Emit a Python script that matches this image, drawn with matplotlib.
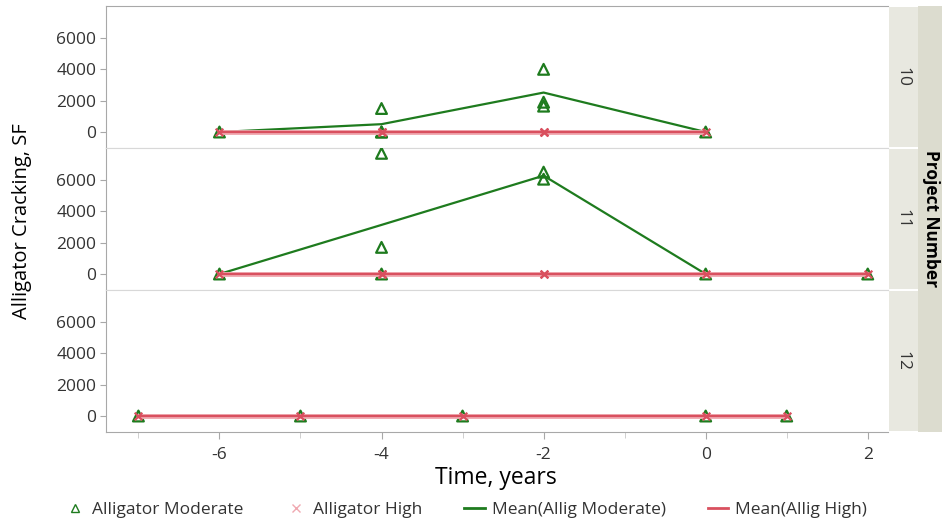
import matplotlib
matplotlib.use("Agg")
import matplotlib.pyplot as plt
from matplotlib.lines import Line2D
import pandas as pd

plt.rcParams['font.family'] = ['Open Sans', 'DejaVu Sans']

# Alligator cracking observations per project (square feet)
projects = [10, 11, 12]
time_p10 = [-6, -4, -4, -4, -2, -2, -2, 0]
moderate_p10 = [0, 1500, 0, 0, 4000, 1900, 1650, 0]
high_p10 = [0, 0, 0, 0, 0, 0, 0, 0]

time_p11 = [-6, -4, -4, -4, -2, -2, 0, 2]
moderate_p11 = [0, 7700, 1700, 0, 6500, 6050, 0, 0]
high_p11 = [0, 0, 0, 0, 0, 0, 0, 0]

time_p12 = [-7, -5, -3, 0, 1]
moderate_p12 = [0, 0, 0, 0, 0]
high_p12 = [0, 0, 0, 0, 0]

y_ticks = [0, 2000, 4000, 6000]
x_ticks = [-6, -4, -2, 0, 2]

data = {
    10: (time_p10, moderate_p10, high_p10),
    11: (time_p11, moderate_p11, high_p11),
    12: (time_p12, moderate_p12, high_p12),
}

GREEN = '#1e7b1e'
RED = '#d9505f'
PINK = '#f0a8b0'
GRAY = '#a8a8a8'
TEXT = '#333333'

W, H = 942, 526
fig = plt.figure(figsize=(W / 100, H / 100), dpi=100)

def fx(px):
    return px / W

def fy(px):
    return 1 - px / H

left, right = 106, 888
top, ph = 6, 142

axes = []
for i, proj in enumerate(projects):
    y0 = top + i * ph
    ax = fig.add_axes([fx(left), fy(y0 + ph), fx(right - left), ph / H])
    t, mod, high = data[proj]
    df = pd.DataFrame({'t': t, 'mod': mod, 'high': high})
    means = df.groupby('t').mean().reset_index()

    ax.plot(means['t'], means['mod'], color=GREEN, lw=1.6, zorder=2)
    ax.scatter(df['t'], df['mod'], marker='^', s=60, facecolors='none',
               edgecolors=GREEN, linewidths=1.6, zorder=3)
    ax.plot(means['t'], means['high'], color=PINK, lw=3.5, zorder=4, solid_capstyle='butt')
    ax.plot(means['t'], means['high'], color=RED, lw=1.6, zorder=5)
    ax.scatter(df['t'], df['high'], marker='x', s=30, color=RED,
               linewidths=1.6, zorder=6)

    ax.set_xlim(-7.4, 2.25)
    ax.set_ylim(-1020, 8040)
    ax.set_yticks(y_ticks)
    ax.set_yticklabels([str(v) for v in y_ticks], fontsize=12.5, color=TEXT)
    ax.tick_params(axis='y', length=4, color=GRAY, pad=3)
    ax.set_xticks(x_ticks)
    ax.set_xticks([-7, -5, -3, -1, 1], minor=True)
    ax.spines['right'].set_visible(False)
    ax.spines['left'].set_color(GRAY)
    ax.spines['top'].set_color('#d8d8d8' if i > 0 else GRAY)
    ax.spines['bottom'].set_color('#d8d8d8' if i < 2 else GRAY)
    if i < 2:
        ax.tick_params(axis='x', which='both', bottom=False, labelbottom=False)
    else:
        ax.set_xticklabels([str(v) for v in x_ticks], fontsize=12.5, color=TEXT)
        ax.tick_params(axis='x', which='major', length=5, color=GRAY, pad=6)
        ax.tick_params(axis='x', which='minor', length=4, color='#c8c8c8')
    axes.append(ax)

    # facet strip with project number
    sx = fig.add_axes([fx(right + 1), fy(y0 + ph - 1), fx(29), (ph - 2) / H])
    sx.set_facecolor('#e8e8e0')
    sx.set_xticks([])
    sx.set_yticks([])
    for s in sx.spines.values():
        s.set_visible(False)
    sx.text(0.45, 0.5, str(proj), rotation=-90, ha='center', va='center',
            fontsize=12.5, color=TEXT, transform=sx.transAxes)

# outer strip label
ox = fig.add_axes([fx(918), fy(top + 3 * ph), fx(W - 918), 3 * ph / H])
ox.set_facecolor('#dcdccf')
ox.set_xticks([])
ox.set_yticks([])
for s in ox.spines.values():
    s.set_visible(False)
ox.text(0.55, 0.5, 'Project Number', rotation=-90, ha='center', va='center',
        fontsize=12.5, fontweight='bold', color='black', transform=ox.transAxes)

fig.text(fx(22), fy(221), 'Alligator Cracking, SF', rotation=90, ha='center',
         va='center', fontsize=14.5, color='black')
fig.text(fx(496), fy(478), 'Time, years', ha='center', va='center',
         fontsize=16.5, color='black')

handles = [
    Line2D([], [], marker='^', ls='none', markerfacecolor='none',
           markeredgecolor=GREEN, markersize=6, markeredgewidth=1.0),
    Line2D([], [], marker='x', ls='none', color=PINK, markersize=6,
           markeredgewidth=1.0),
    Line2D([], [], color=GREEN, lw=2),
    Line2D([], [], color=RED, lw=2),
]
labels = ['Alligator Moderate', 'Alligator High', 'Mean(Allig Moderate)',
          'Mean(Allig High)']
fig.legend(handles, labels, loc='center', bbox_to_anchor=(fx(466), fy(510)),
           ncol=4, frameon=False, fontsize=12.5, handlelength=1.2,
           handletextpad=0.4, columnspacing=2.4, labelcolor=TEXT)

fig.savefig('out.png', dpi=100)
